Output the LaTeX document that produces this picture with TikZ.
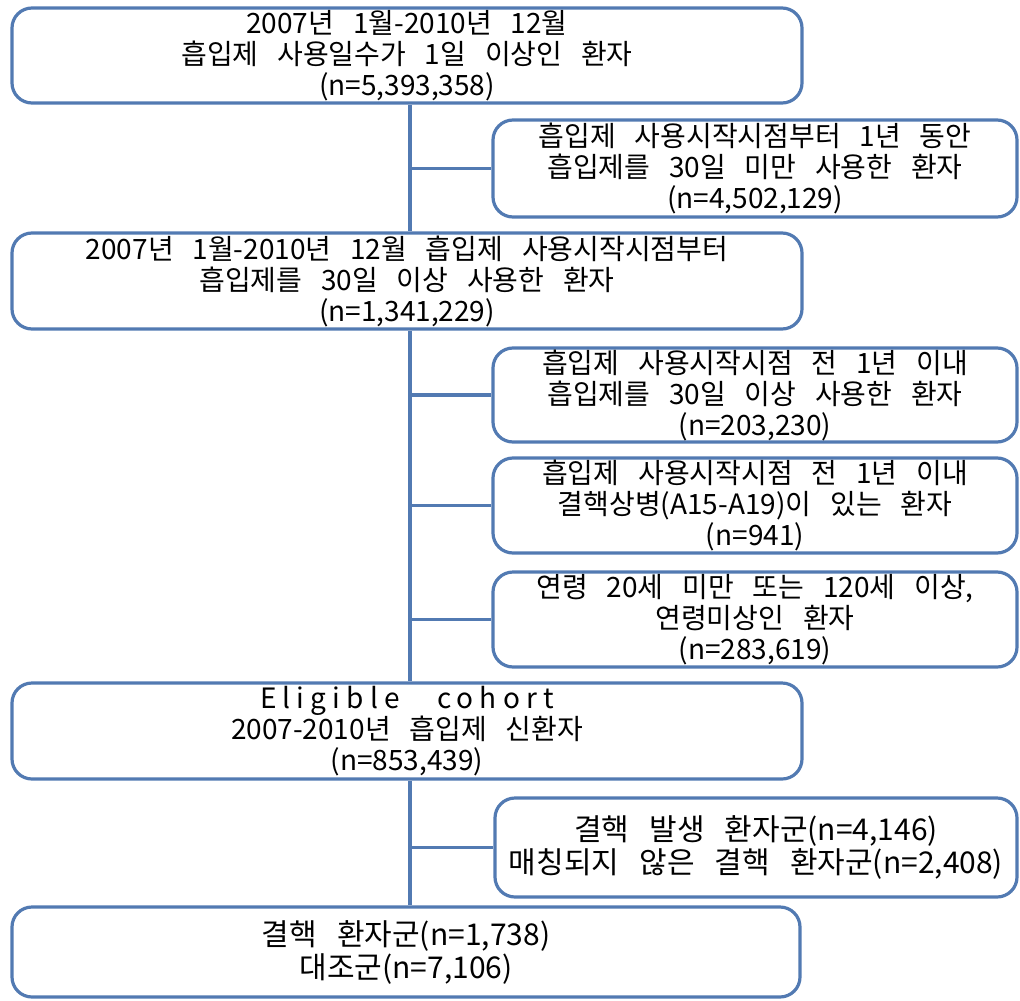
\documentclass[tikz,border=0pt]{standalone}
\usepackage{fontspec}
\setmainfont{Noto Sans CJK KR}[WordSpace=3]
\usetikzlibrary{calc}
\definecolor{boxblue}{RGB}{82,122,178}
\tikzset{
  flowbox/.style={draw=boxblue, line width=3.2pt, rounded corners=20pt, fill=white,
    align=center, inner sep=0pt, font=\fontsize{28}{31}\selectfont},
  narrowbox/.style={flowbox, font=\fontsize{30}{33}\selectfont},
  conn/.style={draw=boxblue, line width=3.2pt}
}
\begin{document}
\begin{tikzpicture}[x=1pt,y=-1pt]
\useasboundingbox (0,0) rectangle (1020,1001);
\coordinate (sp) at (410,0);
\node[flowbox, minimum width=790pt, minimum height=95pt] (b1) at (407,55.5)
  {2007년 1월-2010년 12월\\흡입제 사용일수가 1일 이상인 환자\\(n=5,393,358)};
\node[flowbox, minimum width=524pt, minimum height=97pt] (b2) at (755,168.5)
  {흡입제 사용시작시점부터 1년 동안\\흡입제를 30일 미만 사용한 환자\\(n=4,502,129)};
\node[flowbox, minimum width=790pt, minimum height=96pt] (b3) at (407,281)
  {2007년 1월-2010년 12월 흡입제 사용시작시점부터\\흡입제를 30일 이상 사용한 환자\\(n=1,341,229)};
\node[flowbox, minimum width=524pt, minimum height=94pt] (b4) at (755,395)
  {흡입제 사용시작시점 전 1년 이내\\흡입제를 30일 이상 사용한 환자\\(n=203,230)};
\node[flowbox, minimum width=524pt, minimum height=95pt] (b5) at (755,505.5)
  {흡입제 사용시작시점 전 1년 이내\\결핵상병(A15-A19)이 있는 환자\\(n=941)};
\node[flowbox, minimum width=524pt, minimum height=95pt] (b6) at (755,619.5)
  {연령 20세 미만 또는 120세 이상,\\연령미상인 환자\\(n=283,619)};
\node[flowbox, minimum width=790pt, minimum height=96pt] (b7) at (407,731)
  {{\addfontfeatures{LetterSpace=22}Eligible cohort}\\2007-2010년 흡입제 신환자\\(n=853,439)};
\node[narrowbox, minimum width=522pt, minimum height=99pt] (b8) at (756,847.5)
  {결핵 발생 환자군(n=4,146)\\매칭되지 않은 결핵 환자군(n=2,408)};
\node[narrowbox, minimum width=788pt, minimum height=90pt] (b9) at (406,952)
  {결핵 환자군(n=1,738)\\대조군(n=7,106)};
\draw[conn] (b1.south -| sp) -- (b3.north -| sp);
\draw[conn] (b3.south -| sp) -- (b7.north -| sp);
\draw[conn] (b7.south -| sp) -- (b9.north -| sp);
\draw[conn] (b2.west -| sp) -- (b2.west);
\draw[conn] (b4.west -| sp) -- (b4.west);
\draw[conn] (b5.west -| sp) -- (b5.west);
\draw[conn] (b6.west -| sp) -- (b6.west);
\draw[conn] (b8.west -| sp) -- (b8.west);
\end{tikzpicture}
\end{document}
